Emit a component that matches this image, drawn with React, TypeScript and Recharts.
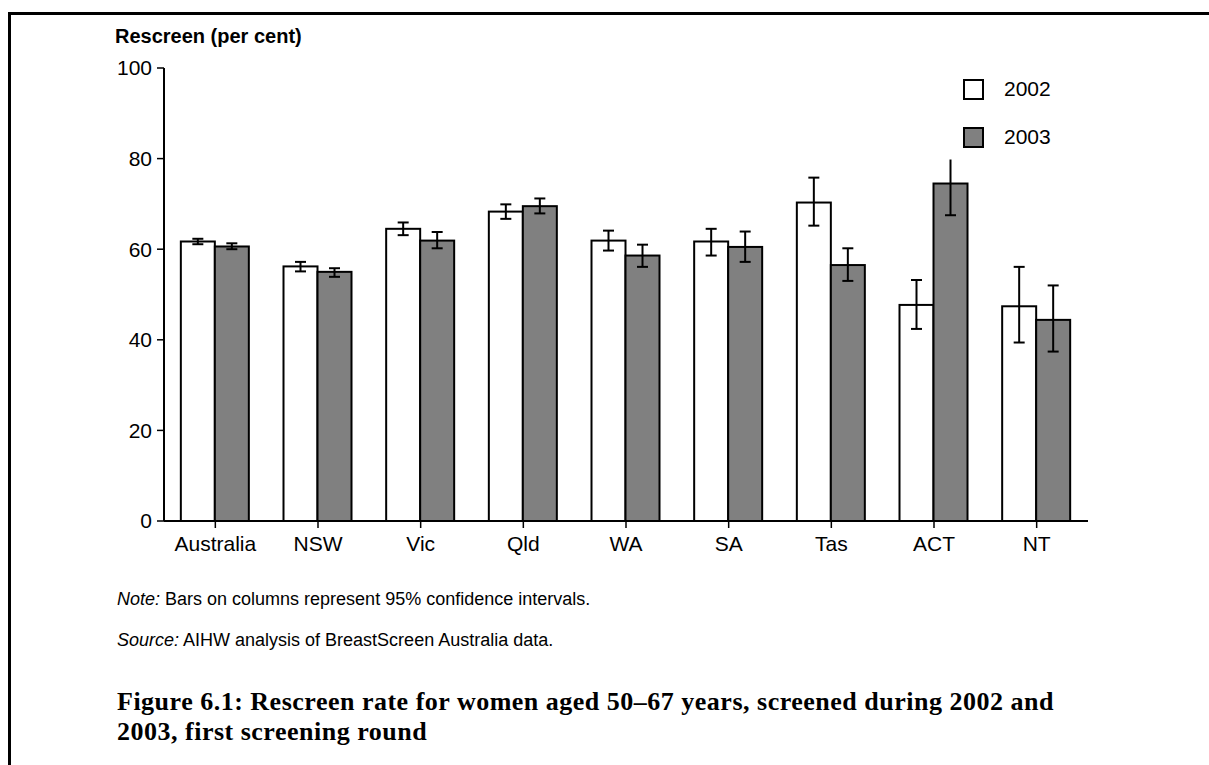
import React from 'react';
import { BarChart, Bar, XAxis, YAxis } from 'recharts';

// Rescreen rate (per cent), first screening round, by state/territory
const states = ['Australia', 'NSW', 'Vic', 'Qld', 'WA', 'SA', 'Tas', 'ACT', 'NT'];
const rate2002 = [61.7, 56.2, 64.5, 68.3, 61.9, 61.7, 70.3, 47.7, 47.4];
const rate2003 = [60.6, 55.0, 61.9, 69.5, 58.6, 60.5, 56.5, 74.5, 44.4];
// 95% confidence intervals
const low2002 = [61.1, 55.1, 63.1, 66.7, 59.7, 58.6, 65.2, 42.4, 39.4];
const high2002 = [62.3, 57.2, 65.9, 69.9, 64.1, 64.5, 75.8, 53.2, 56.1];
const low2003 = [60.0, 53.9, 60.2, 67.9, 56.1, 57.2, 53.0, 67.5, 37.4];
const high2003 = [61.3, 55.8, 63.8, 71.2, 61.0, 63.9, 60.2, 79.8, 52.0];
// the upper whisker of ACT 2003 runs off without a cap
const capHigh2003 = [true, true, true, true, true, true, true, false, true];
const yTicks = [0, 20, 40, 60, 80, 100];

const data = states.map((s, i) => ({
  state: s,
  y2002: rate2002[i],
  y2003: rate2003[i],
  lo2002: low2002[i],
  hi2002: high2002[i],
  lo2003: low2003[i],
  hi2003: high2003[i],
  capHi2002: true,
  capHi2003: capHigh2003[i],
}));

const SANS = '"Liberation Sans", Arial, sans-serif';
const CAP = 11;

// bar rectangle plus its confidence interval, using the bar's own scale
const makeShape = (year: string, fill: string) => (props: any) => {
  const { x, y, width, height, payload } = props;
  const v = payload['y' + year];
  const base = y + height;
  const k = height / v;
  const lo = base - payload['lo' + year] * k;
  const hi = base - payload['hi' + year] * k;
  const cx = x + width / 2;
  return (
    <g>
      <rect x={x} y={y} width={width} height={height} fill={fill} stroke="#000" strokeWidth={2} />
      <line x1={cx} x2={cx} y1={lo} y2={hi} stroke="#000" strokeWidth={2} />
      <line x1={cx - CAP / 2} x2={cx + CAP / 2} y1={lo} y2={lo} stroke="#000" strokeWidth={2} />
      {payload['capHi' + year] && (
        <line x1={cx - CAP / 2} x2={cx + CAP / 2} y1={hi} y2={hi} stroke="#000" strokeWidth={2} />
      )}
    </g>
  );
};

const LegendBox = ({ top, fill, label }: { top: number; fill: string; label: string }) => (
  <div style={{ position: 'absolute', left: 963, top, display: 'flex', alignItems: 'center' }}>
    <div style={{ width: 17, height: 17, background: fill, border: '2px solid #000' }} />
    <span style={{ marginLeft: 20, fontSize: 21, fontFamily: SANS }}>{label}</span>
  </div>
);

export default function App() {
  return (
    <div style={{ position: 'absolute', left: 0, top: 0, width: 1209, height: 765, overflow: 'hidden', background: '#fff' }}>
      <div style={{ position: 'absolute', left: 8, top: 12, width: 1300, height: 900, borderLeft: '3px solid #000', borderTop: '3px solid #000' }} />

      <div style={{ position: 'absolute', left: 115, top: 25, fontFamily: SANS, fontWeight: 'bold', fontSize: 20 }}>
        Rescreen (per cent)
      </div>

      <div style={{ position: 'absolute', left: 0, top: 0 }}>
        <BarChart
          width={1209}
          height={600}
          data={data}
          margin={{ top: 68, right: 121, left: 104, bottom: 49 }}
          barCategoryGap="16.4%"
          barGap={0}
        >
          <XAxis
            dataKey="state"
            height={30}
            axisLine={{ stroke: '#000', strokeWidth: 2 }}
            tickLine={{ stroke: '#000', strokeWidth: 1.5 }}
            tickSize={7}
            tickMargin={8}
            tick={{ fill: '#000', fontSize: 21, fontFamily: SANS }}
            interval={0}
          />
          <YAxis
            width={60}
            domain={[0, 100]}
            ticks={yTicks}
            axisLine={{ stroke: '#000', strokeWidth: 2 }}
            tickLine={{ stroke: '#000', strokeWidth: 1.5 }}
            tickSize={7}
            tickMargin={5}
            tick={{ fill: '#000', fontSize: 21, fontFamily: SANS }}
          />
          <Bar dataKey="y2002" fill="#fff" isAnimationActive={false} shape={makeShape('2002', '#fff')} />
          <Bar dataKey="y2003" fill="#808080" isAnimationActive={false} shape={makeShape('2003', '#808080')} />
        </BarChart>
      </div>

      <LegendBox top={77} fill="#fff" label="2002" />
      <LegendBox top={125} fill="#808080" label="2003" />

      <div style={{ position: 'absolute', left: 117, top: 589, fontFamily: SANS, fontSize: 18 }}>
        <i>Note:</i> Bars on columns represent 95% confidence intervals.
      </div>
      <div style={{ position: 'absolute', left: 117, top: 630, fontFamily: SANS, fontSize: 18 }}>
        <i>Source:</i> AIHW analysis of BreastScreen Australia data.
      </div>
      <div
        style={{
          position: 'absolute',
          left: 117,
          top: 687,
          width: 1090,
          fontFamily: '"Liberation Serif", serif',
          fontWeight: 'bold',
          fontSize: 26,
          letterSpacing: 0.5,
          lineHeight: '30px',
          whiteSpace: 'nowrap',
        }}
      >
        Figure 6.1: Rescreen rate for women aged 50–67 years, screened during 2002 and
        <br />
        2003, first screening round
      </div>
    </div>
  );
}
